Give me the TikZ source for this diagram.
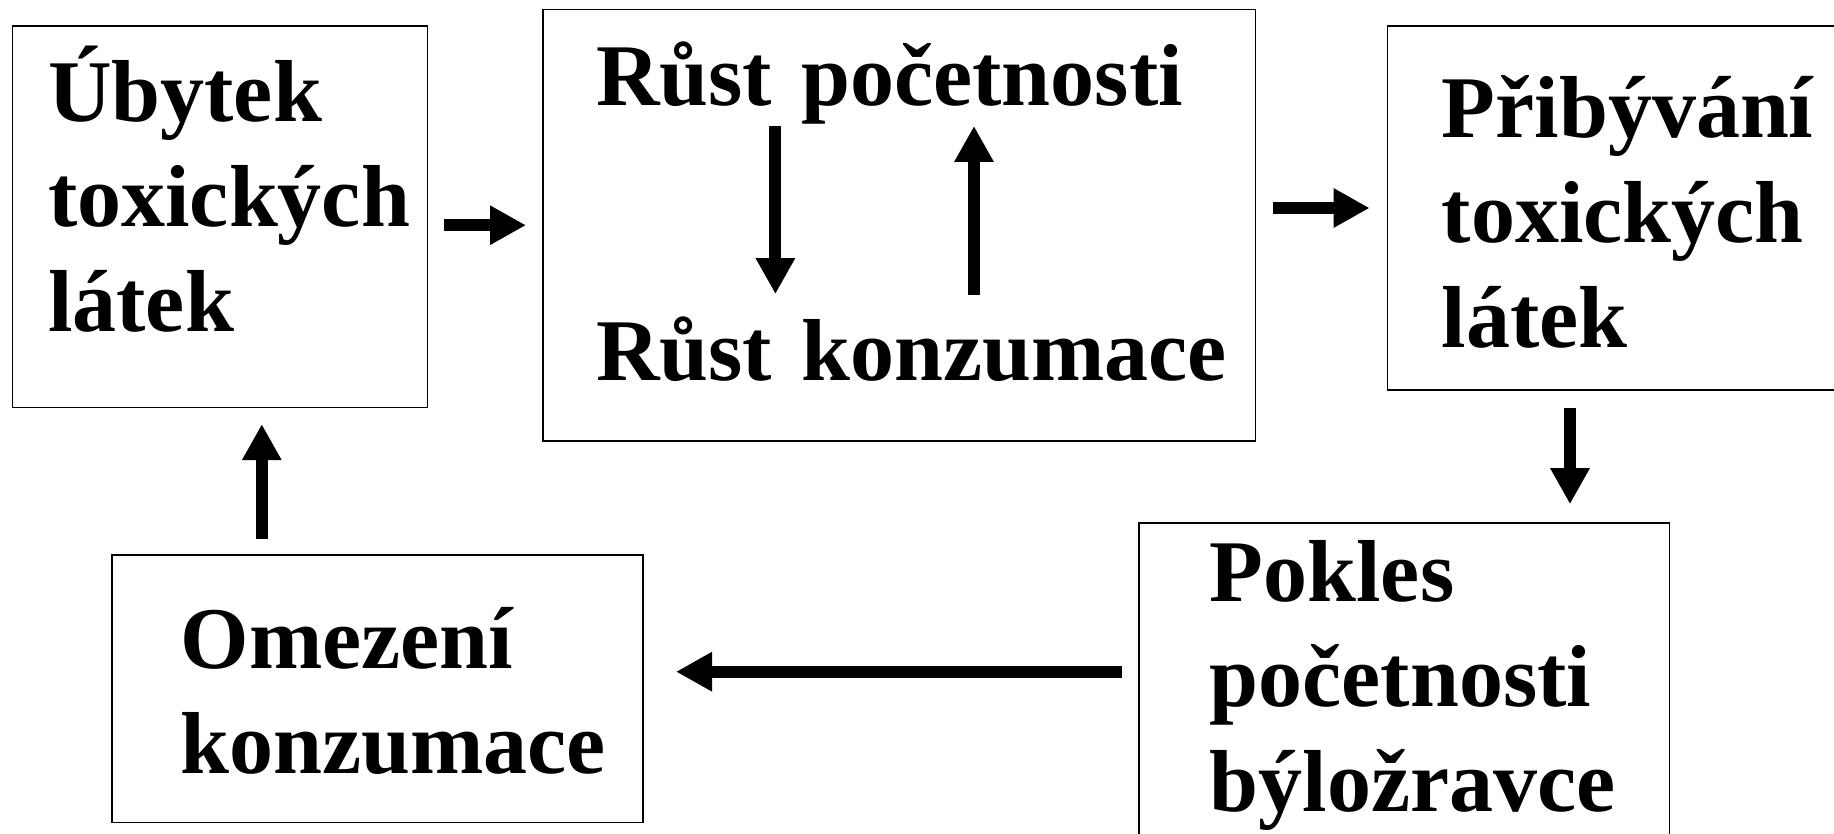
\documentclass[tikz,border=0pt]{standalone}
\usepackage{fontspec}
\setmainfont{Liberation Serif}
\usetikzlibrary{arrows.meta,positioning}

\begin{document}
\begin{tikzpicture}[x=1pt,y=-1pt,
		box node/.style={rectangle,draw,line width=1.6pt,inner sep=0pt},
		text node/.style={inner sep=0pt,anchor=base west,align=left,text width=700pt,
			font=\fontsize{88}{105}\selectfont\bfseries},
		flow/.style={-{Triangle[width=37pt,length=36pt]},line width=12pt}]
		\useasboundingbox (0,0) rectangle (1834,833);
		\clip (0,0) rectangle (1834,833);

		\node[box node, minimum width=414.9pt, minimum height=381.6pt] (ubytek) at (220.05,216.5) {};
		\node[box node, minimum width=712.5pt, minimum height=431.6pt] (rust) at (899.05,225.2) {};
		\node[box node, minimum width=462.6pt, minimum height=364.4pt] (pribyvani) at (1618.7,208) {};
		\node[box node, minimum width=530.8pt, minimum height=327pt] (pokles) at (1404.2,686.5) {};
		\node[box node, minimum width=531pt, minimum height=267.3pt] (omezeni) at (377.7,688.65) {};

		\node[text node] (ubytek text) at (48,121.7) {Úbytek\\toxických\\látek};
		\node[text node] (rust poc) at (596,105) {Růst početnosti};
		\node[text node] (rust konz) at (596,380) {Růst konzumace};
		\node[text node] (pribyvani text) at (1441.6,137.8) {Přibývání\\toxických\\látek};
		\node[text node] (pokles text) at (1209.6,601.7) {Pokles\\početnosti\\býložravce};
		\node[text node] (omezeni text) at (180.4,668.3) {Omezení\\konzumace};

		\coordinate (down) at (775.4,0);
		\coordinate (up) at (974,0);
		\coordinate (drop) at (1570,0);
		\coordinate (back) at (0,671.7);
		\coordinate (rise) at (261.8,0);

		\path[flow]
		(ubytek.east |- rust.west) edge[shorten <=16pt, shorten >=16pt] (rust.west)
		(rust.east |- pribyvani.west) edge[shorten <=17pt, shorten >=17pt] (pribyvani.west)
		(pribyvani.south -| drop) edge[shorten <=17pt, shorten >=18pt] (pokles.north -| drop)
		(pokles.west |- back) edge[shorten <=16pt, shorten >=32pt] (omezeni.east |- back)
		(omezeni.north -| rise) edge[shorten <=15pt, shorten >=16pt] (ubytek.south -| rise)
		(rust poc.south -| down) edge[shorten <=2pt, shorten >=22pt] (rust konz.north -| down)
		(rust konz.north -| up) edge[shorten <=21pt, shorten >=2pt] (rust poc.south -| up);
\end{tikzpicture}
\end{document}
